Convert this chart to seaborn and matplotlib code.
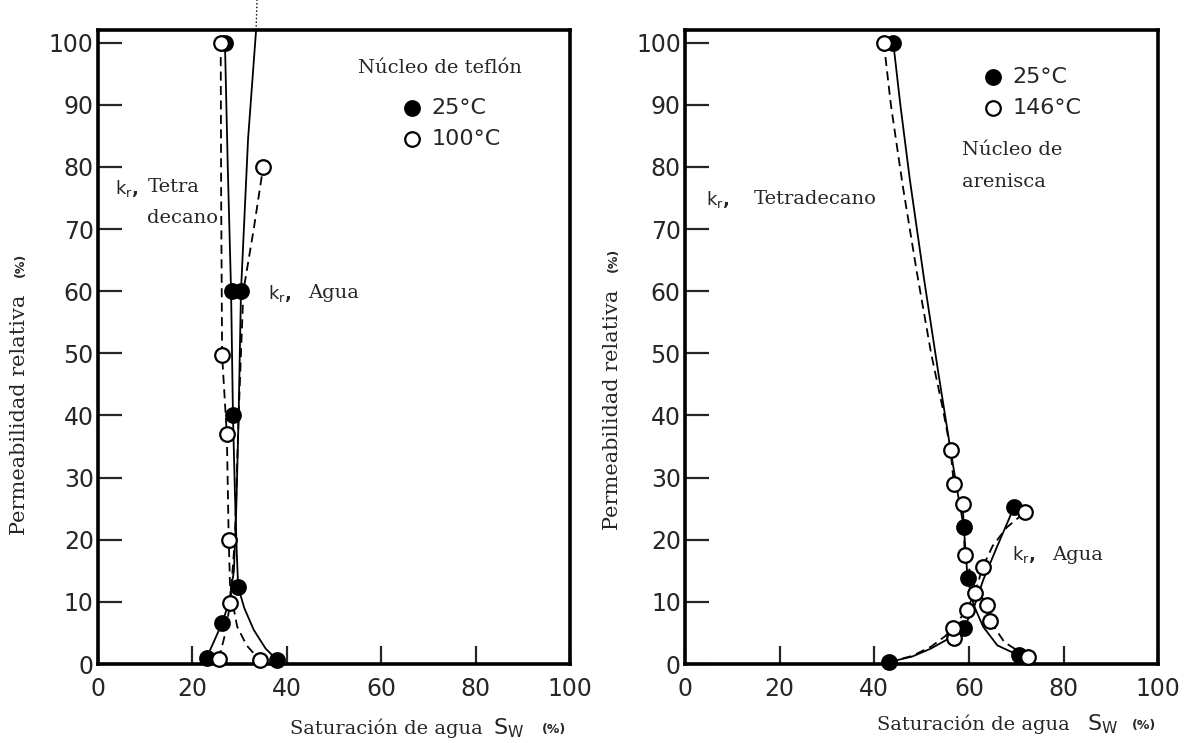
import matplotlib
matplotlib.use("Agg")
import matplotlib.pyplot as plt
import seaborn as sns

# ---- left panel: teflon core (25 C = filled / solid, 100 C = open / dashed)
tef_oil25_sw = [26.9, 27.5, 28.2, 28.6, 29.0, 29.4, 29.7, 31.0, 33.0, 35.5, 38.0]
tef_oil25_kr = [100, 80, 60, 40, 28, 18, 12.4, 9.0, 5.5, 2.5, 0.6]
tef_oil25_pts_sw = [26.9, 28.4, 28.6, 29.7, 38.0]
tef_oil25_pts_kr = [100, 60, 40, 12.4, 0.6]

tef_wat25_sw = [23.0, 24.5, 26.3, 27.8, 28.8, 29.3, 29.8, 30.3, 31.8, 33.3, 33.5]
tef_wat25_kr = [1.0, 3.5, 6.6, 10, 15, 25, 40, 60, 84.5, 100, 102]
tef_wat25_pts_sw = [23.0, 26.3, 30.3]
tef_wat25_pts_kr = [1.0, 6.6, 60]
tef_wat25_ext_sw = [33.5, 33.7]
tef_wat25_ext_kr = [102, 107]

tef_oil100_sw = [26.0, 26.1, 26.3, 27.3, 27.7, 28.0, 29.5, 31.5, 34.3]
tef_oil100_kr = [100, 75, 49.7, 37, 20, 12, 6, 3, 0.6]
tef_oil100_pts_sw = [26.0, 26.3, 27.3, 27.7, 34.3]
tef_oil100_pts_kr = [100, 49.7, 37, 20, 0.6]

tef_wat100_sw = [25.6, 27.0, 28.0, 29.0, 29.8, 30.8, 33.0, 35.0]
tef_wat100_kr = [0.8, 5, 9.8, 20, 40, 60, 70, 80]
tef_wat100_pts_sw = [25.6, 28.0, 35.0]
tef_wat100_pts_kr = [0.8, 9.8, 80]

# ---- right panel: sandstone core (25 C = filled / solid, 146 C = open / dashed)
are_oil25_sw = [44, 45.5, 47.5, 50.5, 53.5, 56.0, 57.5, 58.9, 59.7, 61.0, 63.0, 66.0, 70.5]
are_oil25_kr = [100, 90, 78, 62, 47, 35, 28, 22.1, 13.9, 9.5, 6, 3, 1.4]
are_oil25_pts_sw = [44, 58.9, 59.7, 70.5]
are_oil25_pts_kr = [100, 22.1, 13.9, 1.4]

are_oil146_sw = [42, 43.5, 46, 49, 52, 54.5, 56.1, 56.8, 58.7, 59.1, 61.2, 63.8, 64.4, 67.5, 72.5]
are_oil146_kr = [100, 90, 77, 63, 50, 41, 34.5, 29, 25.8, 17.6, 12.5, 9.5, 7, 3.5, 1.1]
are_oil146_pts_sw = [42, 56.1, 56.8, 58.7, 59.1, 63.8, 64.4, 72.5]
are_oil146_pts_kr = [100, 34.5, 29, 25.8, 17.6, 9.5, 7, 1.1]

are_wat25_sw = [43, 48, 52, 55.5, 58.9, 61, 63, 66, 69.5]
are_wat25_kr = [0.3, 1.2, 2.5, 4, 5.8, 9, 13.5, 19, 25.2]
are_wat25_pts_sw = [43, 58.9, 69.5]
are_wat25_pts_kr = [0.3, 5.8, 25.2]

are_wat146_sw = [43, 48, 52, 55, 56.6, 59.5, 61.3, 62.9, 65, 68, 71.8]
are_wat146_kr = [0.3, 1.3, 2.8, 4.5, 5.8, 8.7, 11.5, 15.6, 19, 22, 24.4]
are_wat146_pts_sw = [56.8, 56.6, 59.5, 61.3, 62.9, 71.8]
are_wat146_pts_kr = [4.2, 5.8, 8.7, 11.5, 15.6, 24.4]

x_ticks = [0, 20, 40, 60, 80, 100]
y_ticks = [0, 10, 20, 30, 40, 50, 60, 70, 80, 90, 100]

sns.set_style("white")
serif = "DejaVu Serif"
sans = "DejaVu Sans"
plt.rcParams["mathtext.fontset"] = "dejavusans"

fig = plt.figure(figsize=(11.86, 7.43), dpi=100)
ax1 = fig.add_axes([0.0826, 0.1063, 0.398, 0.853])
ax2 = fig.add_axes([0.5776, 0.1063, 0.399, 0.853])


def curve(ax, sw, kr, dashed):
    ls = (0, (5, 3)) if dashed else "-"
    sns.lineplot(x=sw, y=kr, ax=ax, color="black", lw=1.3, linestyle=ls,
                 sort=False, estimator=None)


def dots(ax, sw, kr, filled):
    sns.scatterplot(x=sw, y=kr, ax=ax, s=110, color="black" if filled else "white",
                    edgecolor="black", linewidth=1.6, zorder=4, clip_on=False)


def style_axes(ax):
    ax.set_xlim(0, 100)
    ax.set_ylim(0, 102)
    ax.set_xticks(x_ticks)
    ax.set_yticks(y_ticks)
    ax.tick_params(axis="y", direction="in", length=17, width=1.6, pad=3,
                   labelsize=17, left=True)
    ax.tick_params(axis="x", direction="in", length=13, width=1.6, pad=9,
                   labelsize=17, bottom=True)
    for s in ax.spines.values():
        s.set_linewidth(2.6)
        s.set_color("black")
    ax.set_xlabel("")
    ax.set_ylabel("")


# left panel
curve(ax1, tef_oil25_sw, tef_oil25_kr, False)
curve(ax1, tef_wat25_sw, tef_wat25_kr, False)
curve(ax1, tef_oil100_sw, tef_oil100_kr, True)
curve(ax1, tef_wat100_sw, tef_wat100_kr, True)
ax1.plot(tef_wat25_ext_sw, tef_wat25_ext_kr, color="black", lw=1.0, ls=":", clip_on=False)
dots(ax1, tef_oil25_pts_sw, tef_oil25_pts_kr, True)
dots(ax1, tef_wat25_pts_sw, tef_wat25_pts_kr, True)
dots(ax1, tef_oil100_pts_sw, tef_oil100_pts_kr, False)
dots(ax1, tef_wat100_pts_sw, tef_wat100_pts_kr, False)
style_axes(ax1)

# right panel
curve(ax2, are_oil25_sw, are_oil25_kr, False)
curve(ax2, are_wat25_sw, are_wat25_kr, False)
curve(ax2, are_oil146_sw, are_oil146_kr, True)
curve(ax2, are_wat146_sw, are_wat146_kr, True)
dots(ax2, are_oil25_pts_sw, are_oil25_pts_kr, True)
dots(ax2, are_wat25_pts_sw, are_wat25_pts_kr, True)
dots(ax2, are_oil146_pts_sw, are_oil146_pts_kr, False)
dots(ax2, are_wat146_pts_sw, are_wat146_pts_kr, False)
style_axes(ax2)

# legends drawn as in the original figure
for ax, lx, ly, labels in [(ax1, 66.5, [89.5, 84.5], ["25°C", "100°C"]),
                           (ax2, 65.0, [94.5, 89.5], ["25°C", "146°C"])]:
    for y, lab, filled in zip(ly, labels, [True, False]):
        ax.scatter([lx], [y], s=110, color="black" if filled else "white",
                   edgecolor="black", linewidth=1.6, zorder=4)
        ax.text(lx + 4.2, y, lab, fontsize=16, family=sans, va="center", ha="left")

kr = r"$\mathsf{k_r}$"
ax1.text(55, 96, "Núcleo de teflón", fontsize=14, family=serif, va="center")
ax1.text(3.6, 76.5, kr + ",", fontsize=13, family=sans, va="center", weight="bold")
ax1.text(10.5, 76.8, "Tetra", fontsize=14, family=serif, va="center")
ax1.text(10.3, 71.8, "decano", fontsize=14, family=serif, va="center")
ax1.text(36, 59.7, kr + ",", fontsize=13, family=sans, va="center", weight="bold")
ax1.text(44.5, 59.7, "Agua", fontsize=14, family=serif, va="center")

ax2.text(58.5, 82.8, "Núcleo de", fontsize=14, family=serif, va="center")
ax2.text(58.5, 77.5, "arenisca", fontsize=14, family=serif, va="center")
ax2.text(4.5, 74.8, kr + ",", fontsize=13, family=sans, va="center", weight="bold")
ax2.text(14.5, 74.8, "Tetradecano", fontsize=14, family=serif, va="center")
ax2.text(69, 17.6, kr + ",", fontsize=13, family=sans, va="center", weight="bold")
ax2.text(77.5, 17.6, "Agua", fontsize=14, family=serif, va="center")

# axis labels (serif words + sans symbols)
for x0, xs, xp, base in [(290, 493, 542, 734), (877, 1087, 1132, 730)]:
    fig.text(x0 / 1186, 1 - base / 743, "Saturación de agua", fontsize=14,
             family=serif, va="baseline", ha="left")
    fig.text(xs / 1186, 1 - base / 743, r"$\mathsf{S_W}$", fontsize=16,
             va="baseline", ha="left")
    fig.text(xp / 1186, 1 - (base - 1) / 743, "(%)", fontsize=9, family=sans,
             weight="bold", va="baseline", ha="left")

for xl, yc, yp in [(20, 415, 265), (613, 410, 260)]:
    fig.text(xl / 1186, 1 - yc / 743, "Permeabilidad relativa", fontsize=15,
             family=serif, rotation=90, va="center", ha="center")
    fig.text(xl / 1186, 1 - yp / 743, "(%)", fontsize=9, family=sans,
             weight="bold", rotation=90, va="center", ha="center")

fig.savefig("out.png", dpi=100, facecolor="white")
